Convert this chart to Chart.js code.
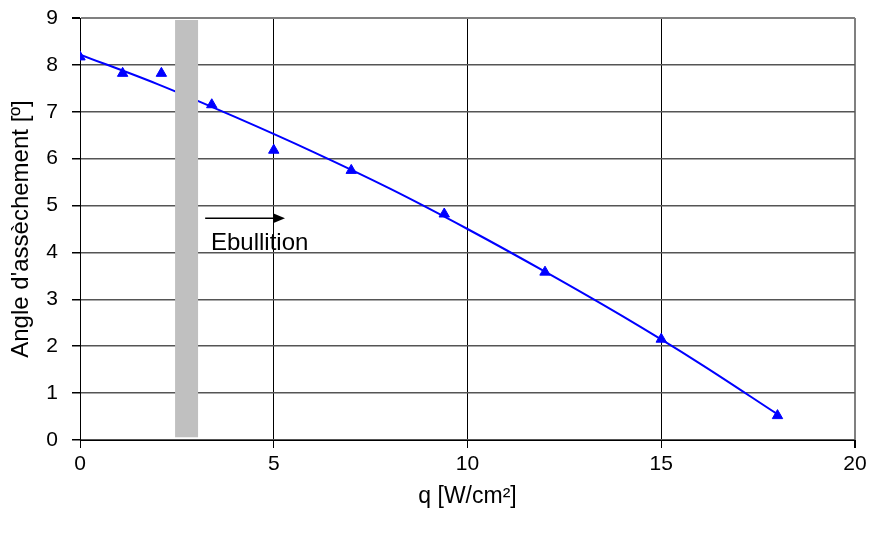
<!DOCTYPE html>
<html>
<head>
<meta charset="utf-8">
<script src="https://cdn.jsdelivr.net/npm/chart.js@4.4.1/dist/chart.umd.min.js"></script>
<style>
  html, body { margin: 0; padding: 0; background: #fff; }
  #wrap { width: 872px; height: 533px; }
</style>
</head>
<body>
<div id="wrap"><canvas id="chart" width="872" height="533"></canvas></div>
<script>
// mesures (triangles)
const measX = [0, 1.1, 2.1, 3.4, 5.0, 7.0, 9.4, 12.0, 15.0, 18.0];
const measY = [8.17, 7.82, 7.82, 7.15, 6.18, 5.75, 4.82, 3.58, 2.15, 0.52];

// courbe de tendance
const trendX = [0, 2, 4, 6, 8, 10, 12, 14, 16, 18];
const trendY = [8.22, 7.59, 6.89, 6.15, 5.36, 4.50, 3.59, 2.64, 1.63, 0.55];

// bande grise (début d'ébullition)
const bandX = [2.75, 2.75];
const bandY = [0.06, 8.96];

// flèche "Ebullition"
const arrowX = [3.23, 5.29];
const arrowY = 4.73;
const labelPos = [3.38, 4.05];

const xTicks = [0, 5, 10, 15, 20];
const yTicks = [0, 1, 2, 3, 4, 5, 6, 7, 8, 9];

const FONT = 'Liberation Sans, Arial, sans-serif';

function pts(xs, ys) {
    return xs.map((x, i) => ({ x: x, y: ys[i] }));
}

// plugin pour la flèche et le texte
const arrowPlugin = {
    id: 'arrow',
    afterDatasetsDraw(chart) {
        const ctx = chart.ctx;
        const sx = chart.scales.x, sy = chart.scales.y;
        const x1 = sx.getPixelForValue(arrowX[0]);
        const x2 = sx.getPixelForValue(arrowX[1]);
        const y = sy.getPixelForValue(arrowY);
        ctx.save();
        ctx.strokeStyle = '#000';
        ctx.fillStyle = '#000';
        ctx.lineWidth = 1.5;
        ctx.beginPath();
        ctx.moveTo(x1, y);
        ctx.lineTo(x2 - 8, y);
        ctx.stroke();
        ctx.beginPath();
        ctx.moveTo(x2, y);
        ctx.lineTo(x2 - 12, y - 5);
        ctx.lineTo(x2 - 12, y + 5);
        ctx.closePath();
        ctx.fill();
        ctx.font = '24px ' + FONT;
        ctx.textBaseline = 'alphabetic';
        ctx.fillText('Ebullition', sx.getPixelForValue(labelPos[0]), sy.getPixelForValue(labelPos[1]));
        ctx.restore();
    }
};

const ctx = document.getElementById('chart').getContext('2d');
new Chart(ctx, {
    type: 'scatter',
    data: {
        datasets: [
            {
                label: 'mesures',
                data: pts(measX, measY),
                showLine: false,
                pointStyle: 'triangle',
                pointRadius: 6,
                backgroundColor: '#0000FF',
                borderColor: '#0000FF',
                borderWidth: 1,
                order: 0
            },
            {
                label: 'bande',
                data: pts(bandX, bandY),
                showLine: true,
                borderColor: '#C0C0C0',
                borderWidth: 23,
                borderCapStyle: 'butt',
                pointRadius: 0,
                order: 1
            },
            {
                label: 'tendance',
                data: pts(trendX, trendY),
                showLine: true,
                borderColor: '#0000FF',
                borderWidth: 2,
                tension: 0.4,
                cubicInterpolationMode: 'monotone',
                pointRadius: 0,
                order: 2
            }
        ]
    },
    options: {
        responsive: false,
        animation: false,
        layout: { padding: { top: 18, right: 17, left: 0, bottom: 0 } },
        plugins: {
            legend: { display: false },
            tooltip: { enabled: false }
        },
        scales: {
            x: {
                type: 'linear',
                min: 0, max: 20,
                afterBuildTicks: (s) => { s.ticks = xTicks.map(v => ({ value: v })); },
                afterFit: (s) => { s.height = 93; },
                grid: {
                    color: (c) => c.tick && c.tick.value === 20 ? '#808080' : '#000',
                    lineWidth: (c) => c.tick && c.tick.value === 20 ? 2 : 1,
                    tickColor: '#000',
                    tickLength: 8
                },
                border: { color: '#000', width: 1 },
                ticks: { color: '#000', font: { family: FONT, size: 21 }, padding: 4, maxRotation: 0 },
                title: {
                    display: true,
                    text: 'q [W/cm²]',
                    color: '#000',
                    font: { family: FONT, size: 23 },
                    padding: { top: 0, bottom: 23 }
                }
            },
            y: {
                type: 'linear',
                min: 0, max: 9,
                afterBuildTicks: (s) => { s.ticks = yTicks.map(v => ({ value: v })); },
                afterFit: (s) => { s.width = 80; s.paddingTop = 0; s.paddingBottom = 0; },
                grid: {
                    color: (c) => c.tick && c.tick.value === 9 ? '#808080' : '#555',
                    lineWidth: (c) => c.tick && c.tick.value === 9 ? 2 : 1.5,
                    tickColor: '#000',
                    tickLength: 8
                },
                border: { color: '#000', width: 1 },
                ticks: { color: '#000', font: { family: FONT, size: 21 }, padding: 14 },
                title: {
                    display: true,
                    text: "Angle d'assèchement [º]",
                    color: '#000',
                    font: { family: FONT, size: 24 },
                    padding: { top: 7, bottom: 0 }
                }
            }
        }
    },
    plugins: [arrowPlugin]
});
</script>
</body>
</html>
